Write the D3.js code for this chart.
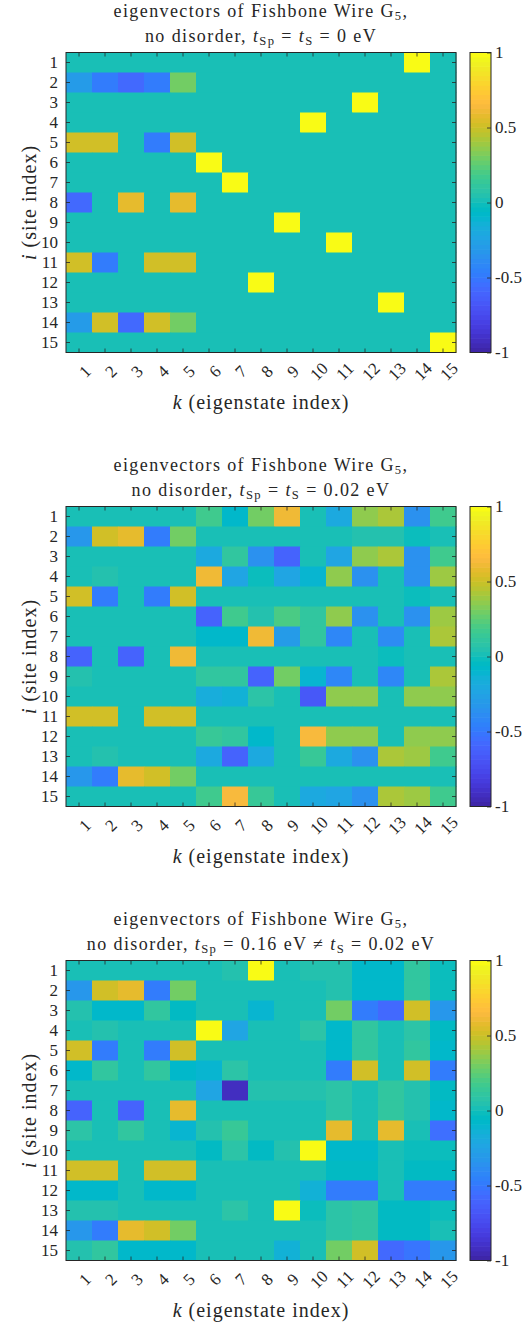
<!DOCTYPE html>
<html>
<head>
<meta charset="utf-8">
<script src="https://cdn.jsdelivr.net/npm/d3@7"></script>
<style>
  body { margin: 0; background: #fff; }
</style>
</head>
<body>
<svg></svg>
<script>
// Tick labels
const siteLabels = d3.range(1, 16).map(String);
const stateLabels = d3.range(1, 16).map(String);
const cbarTicks = [-1, -0.5, 0, 0.5, 1];
const cbarTickLabels = ["-1", "-0.5", "0", "0.5", "1"];

// Eigenvector components, rows = site i, columns = eigenstate k
// t_Sp = t_S = 0 eV
const vecsZero = [
  [0, 0, 0, 0, 0, 0, 0, 0, 0, 0, 0, 0, 0, 1, 0],
  [-0.29, -0.5, -0.58, -0.5, 0.29, 0, 0, 0, 0, 0, 0, 0, 0, 0, 0],
  [0, 0, 0, 0, 0, 0, 0, 0, 0, 0, 0, 1, 0, 0, 0],
  [0, 0, 0, 0, 0, 0, 0, 0, 0, 1, 0, 0, 0, 0, 0],
  [0.5, 0.5, 0, -0.5, 0.5, 0, 0, 0, 0, 0, 0, 0, 0, 0, 0],
  [0, 0, 0, 0, 0, 1, 0, 0, 0, 0, 0, 0, 0, 0, 0],
  [0, 0, 0, 0, 0, 0, 1, 0, 0, 0, 0, 0, 0, 0, 0],
  [-0.58, 0, 0.58, 0, 0.58, 0, 0, 0, 0, 0, 0, 0, 0, 0, 0],
  [0, 0, 0, 0, 0, 0, 0, 0, 1, 0, 0, 0, 0, 0, 0],
  [0, 0, 0, 0, 0, 0, 0, 0, 0, 0, 1, 0, 0, 0, 0],
  [0.5, -0.5, 0, 0.5, 0.5, 0, 0, 0, 0, 0, 0, 0, 0, 0, 0],
  [0, 0, 0, 0, 0, 0, 0, 1, 0, 0, 0, 0, 0, 0, 0],
  [0, 0, 0, 0, 0, 0, 0, 0, 0, 0, 0, 0, 1, 0, 0],
  [-0.29, 0.5, -0.58, 0.5, 0.29, 0, 0, 0, 0, 0, 0, 0, 0, 0, 0],
  [0, 0, 0, 0, 0, 0, 0, 0, 0, 0, 0, 0, 0, 0, 1]
];

// t_Sp = t_S = 0.02 eV
const vecsEqual = [
  [0.02, 0.02, 0.02, 0.03, 0.02, 0.17, -0.08, 0.3, 0.62, 0.03, -0.2, 0.37, 0.42, -0.35, 0.17],
  [-0.33, 0.5, 0.58, -0.5, 0.29, 0.03, 0.03, 0.03, 0.03, 0.02, 0.03, 0.05, 0.05, -0.02, 0.01],
  [0.02, 0.02, 0.02, 0.03, 0.02, -0.2, 0.1, -0.35, -0.62, 0.02, -0.25, 0.37, 0.42, -0.35, 0.17],
  [0.02, 0.04, 0.02, 0.03, 0.02, 0.62, -0.25, -0.02, -0.25, -0.12, 0.37, -0.35, 0.02, -0.35, 0.38],
  [0.5, -0.5, 0.02, -0.5, 0.5, 0.03, 0.03, 0.03, 0.03, 0.03, 0.03, 0, 0.02, -0.02, 0.03],
  [0, 0.03, 0.02, 0.03, 0.02, -0.62, 0.18, 0.06, 0.2, 0.1, 0.37, -0.35, 0.02, -0.35, 0.38],
  [0.02, 0.02, 0.03, 0.02, 0.02, -0.08, -0.08, 0.62, -0.3, 0.1, -0.42, 0.02, -0.4, 0.02, 0.42],
  [-0.6, 0.02, -0.6, 0.02, 0.6, 0.02, 0.02, 0.02, 0.01, 0.02, 0.02, 0.02, -0.01, 0.02, 0.02],
  [0.04, 0.02, 0.02, 0.02, 0.02, 0.1, 0.1, -0.62, 0.3, -0.1, -0.42, 0.02, -0.42, 0.02, 0.42],
  [0.02, 0.02, 0.02, 0.02, 0.02, -0.18, -0.13, 0.08, 0.03, -0.68, 0.37, 0.37, 0.02, 0.37, 0.37],
  [0.5, 0.5, 0.02, 0.5, 0.5, 0.02, 0.02, 0.02, 0.02, 0.02, 0.02, 0.02, 0.02, 0.02, 0.02],
  [0.02, 0.02, 0.02, 0.02, 0.02, 0.15, 0.1, -0.08, 0.02, 0.64, 0.37, 0.37, 0, 0.37, 0.37],
  [0.02, 0.04, 0.02, 0.02, 0.02, -0.2, -0.62, -0.2, 0.02, 0.15, -0.2, -0.35, 0.42, 0.4, 0.17],
  [-0.33, -0.5, 0.58, 0.5, 0.29, 0.03, 0.03, 0.03, 0.03, 0.02, 0.02, 0, 0.03, 0.03, 0.02],
  [0.02, 0.03, 0.02, 0.02, 0.02, 0.17, 0.64, 0.15, 0.02, -0.2, -0.23, -0.35, 0.42, 0.4, 0.17]
];

// t_Sp = 0.16 eV, t_S = 0.02 eV
const vecsUnequal = [
  [0.02, 0.02, 0.02, 0.03, 0.02, 0.02, 0.05, 1, 0.02, 0.05, 0.04, -0.08, -0.08, 0.1, -0.03],
  [-0.33, 0.5, 0.58, -0.5, 0.29, 0.02, 0.02, 0.02, 0.02, 0.02, 0.05, -0.08, -0.08, 0.1, -0.03],
  [0.06, -0.08, -0.08, 0.1, -0.04, 0.02, 0.02, -0.12, 0.02, 0.02, 0.29, -0.5, -0.58, 0.5, -0.33],
  [0.02, 0.04, 0.02, 0.02, 0.02, 1, -0.22, 0.02, 0.02, 0.08, -0.07, 0.1, 0.03, 0.08, -0.05],
  [0.5, -0.5, 0.02, -0.5, 0.5, 0.02, 0.02, 0.02, 0.02, 0.02, -0.07, 0.1, 0.03, 0.1, -0.07],
  [-0.07, 0.1, 0.02, 0.1, -0.07, -0.12, 0.07, 0.02, 0.02, 0.02, -0.5, 0.5, 0.02, 0.5, -0.5],
  [0.02, 0.02, 0.02, 0.02, 0.02, -0.22, -0.93, 0.05, 0.06, 0.05, 0.08, 0.03, 0.1, 0.05, -0.04],
  [-0.6, 0.02, -0.6, 0.02, 0.58, 0.02, 0.02, 0.02, 0.02, 0.02, 0.08, 0.03, 0.12, 0.04, -0.08],
  [0.08, 0.02, 0.1, 0.02, -0.1, 0.05, 0.14, 0.02, 0.02, 0.02, 0.58, 0.02, 0.58, 0.03, -0.56],
  [0.03, 0.02, 0.02, 0.02, 0.02, -0.06, 0.08, -0.06, 0.05, 1, -0.07, -0.07, 0.02, -0.03, -0.02],
  [0.5, 0.5, 0.02, 0.5, 0.5, 0.02, 0.02, 0.02, 0.02, 0.02, -0.06, -0.06, 0.02, -0.05, -0.05],
  [-0.08, -0.08, 0.02, -0.08, -0.08, 0.02, 0.02, 0.02, 0.02, -0.14, -0.5, -0.5, 0.02, -0.5, -0.5],
  [0.04, 0.04, 0.02, 0.02, 0.03, 0.02, 0.08, 0.02, 1, -0.02, 0.08, 0.1, -0.06, -0.06, -0.03],
  [-0.33, -0.5, 0.58, 0.5, 0.29, 0.02, 0.02, 0.02, 0.02, 0.02, 0.08, 0.1, -0.06, -0.06, 0],
  [0.06, 0.1, -0.07, -0.07, -0.07, 0.02, 0.02, 0.02, -0.14, 0.02, 0.29, 0.5, -0.58, -0.52, -0.33]
];

// Panel title second lines (parts: [text, style]) ; style: "i" italic, "s" subscript
const subtitles = [
  [["no disorder, "], ["t", "i"], ["Sp", "s"], [" = "], ["t", "i"], ["S", "s"], [" = 0 eV"]],
  [["no disorder, "], ["t", "i"], ["Sp", "s"], [" = "], ["t", "i"], ["S", "s"], [" = 0.02 eV"]],
  [["no disorder, "], ["t", "i"], ["Sp", "s"], [" = 0.16 eV \u2260 "], ["t", "i"], ["S", "s"], [" = 0.02 eV"]]
];

// MATLAB parula (R2014b), 64 entries
const parula = [
  [0.2422,0.1504,0.6603],[0.2504,0.1650,0.7076],[0.2578,0.1818,0.7511],[0.2647,0.1978,0.7952],
  [0.2706,0.2147,0.8364],[0.2751,0.2342,0.8710],[0.2783,0.2559,0.8991],[0.2803,0.2782,0.9221],
  [0.2813,0.3006,0.9414],[0.2810,0.3228,0.9579],[0.2795,0.3447,0.9717],[0.2760,0.3667,0.9829],
  [0.2699,0.3892,0.9906],[0.2602,0.4123,0.9952],[0.2440,0.4358,0.9988],[0.2206,0.4603,0.9973],
  [0.1963,0.4847,0.9892],[0.1834,0.5074,0.9798],[0.1786,0.5289,0.9682],[0.1764,0.5499,0.9520],
  [0.1687,0.5703,0.9359],[0.1540,0.5902,0.9218],[0.1460,0.6091,0.9079],[0.1380,0.6276,0.8973],
  [0.1248,0.6459,0.8883],[0.1113,0.6635,0.8763],[0.0952,0.6798,0.8598],[0.0689,0.6948,0.8394],
  [0.0297,0.7082,0.8163],[0.0036,0.7203,0.7917],[0.0067,0.7312,0.7660],[0.0433,0.7411,0.7394],
  [0.0964,0.7500,0.7120],[0.1408,0.7584,0.6842],[0.1717,0.7670,0.6554],[0.1938,0.7758,0.6251],
  [0.2161,0.7843,0.5923],[0.2470,0.7918,0.5567],[0.2906,0.7973,0.5188],[0.3406,0.8008,0.4789],
  [0.3909,0.8029,0.4354],[0.4456,0.8024,0.3909],[0.5044,0.7993,0.3480],[0.5616,0.7942,0.3045],
  [0.6174,0.7876,0.2612],[0.6720,0.7793,0.2227],[0.7242,0.7698,0.1910],[0.7738,0.7598,0.1646],
  [0.8203,0.7498,0.1535],[0.8634,0.7406,0.1596],[0.9035,0.7330,0.1774],[0.9393,0.7288,0.2100],
  [0.9728,0.7298,0.2394],[0.9956,0.7434,0.2371],[0.9970,0.7659,0.2199],[0.9952,0.7893,0.2028],
  [0.9892,0.8136,0.1885],[0.9807,0.8386,0.1751],[0.9681,0.8639,0.1628],[0.9563,0.8893,0.1539],
  [0.9464,0.9146,0.1449],[0.9427,0.9398,0.1327],[0.9466,0.9650,0.1143],[0.9769,0.9839,0.0805]
].map(c => d3.rgb(c[0] * 255, c[1] * 255, c[2] * 255).formatHex());

const W = 524, H = 1327;
const svg = d3.select("svg").attr("width", W).attr("height", H);

const color = d3.scaleQuantize().domain([-1, 1]).range(parula);

const plotLeft = 66, plotRight = 456, plotH = 300;
const cbLeft = 470, cbRight = 491;
const panelTops = [52.5, 506.5, 960.5];
const matrices = [vecsZero, vecsEqual, vecsUnequal];
const ink = "#262626";
const serif = "'Liberation Serif'";
const midX = (plotLeft + plotRight) / 2;

function addRich(sel, parts, size) {
  let shifted = false;
  parts.forEach(([txt, st]) => {
    const t = sel.append("tspan").text(txt);
    if (st === "i") t.style("font-style", "italic");
    if (st === "s") {
      t.style("font-size", (size * 0.7) + "px").attr("dy", size * 0.22);
      shifted = true;
    } else if (shifted) {
      t.attr("dy", -size * 0.22);
      shifted = false;
    }
  });
}

function label(g, size, spacing) {
  return g.append("text")
    .attr("text-anchor", "middle")
    .attr("fill", ink)
    .style("font-family", serif)
    .style("font-size", size + "px")
    .style("letter-spacing", spacing + "px");
}

matrices.forEach((mat, p) => {
  const top = panelTops[p], bottom = top + plotH;
  const g = svg.append("g");

  const x = d3.scaleBand().domain(stateLabels).range([plotLeft, plotRight]);
  const y = d3.scaleBand().domain(siteLabels).range([top, bottom]);

  const cells = mat.flatMap((row, i) => row.map((v, k) => ({ site: siteLabels[i], state: stateLabels[k], v })));
  g.append("g").selectAll("rect")
    .data(cells)
    .join("rect")
      .attr("x", d => x(d.state))
      .attr("y", d => y(d.site))
      .attr("width", x.bandwidth() + 0.5)
      .attr("height", y.bandwidth() + 0.5)
      .attr("fill", d => color(d.v));

  // axes, ticks pointing inward
  const xb = g.append("g").attr("transform", `translate(0,${bottom})`)
    .call(d3.axisBottom(x).tickSizeInner(-4).tickSizeOuter(0));
  xb.selectAll("text")
    .attr("y", 0).attr("dy", null)
    .attr("transform", "translate(6,19) rotate(-45)")
    .attr("text-anchor", "middle")
    .attr("dominant-baseline", "central");
  g.append("g").attr("transform", `translate(0,${top})`)
    .call(d3.axisTop(x).tickSizeInner(-4).tickSizeOuter(0).tickFormat(""));
  g.append("g").attr("transform", `translate(${plotLeft},0)`)
    .call(d3.axisLeft(y).tickSizeInner(-4).tickSizeOuter(0).tickPadding(8));
  g.append("g").attr("transform", `translate(${plotRight},0)`)
    .call(d3.axisRight(y).tickSizeInner(-4).tickSizeOuter(0).tickFormat(""));
  g.selectAll(".domain").remove();
  g.selectAll(".tick line").attr("stroke", ink).attr("stroke-width", 0.8);
  g.selectAll(".tick text").attr("fill", ink)
    .style("font-family", serif).style("font-size", "17px");

  g.append("rect")
    .attr("x", plotLeft).attr("y", top)
    .attr("width", plotRight - plotLeft).attr("height", plotH)
    .attr("fill", "none").attr("stroke", ink).attr("stroke-width", 1);

  // colorbar
  const cy = d3.scaleLinear().domain([-1, 1]).range([bottom, top]);
  const step = 2 / parula.length;
  const bands = d3.range(parula.length).map(i => -1 + i * step);
  g.append("g").selectAll("rect")
    .data(bands)
    .join("rect")
      .attr("x", cbLeft).attr("width", cbRight - cbLeft)
      .attr("y", d => cy(d + step) - 0.3)
      .attr("height", d => cy(d) - cy(d + step) + 0.6)
      .attr("fill", d => color(d + step / 2));
  const cb = g.append("g").attr("transform", `translate(${cbRight},0)`)
    .call(d3.axisRight(cy).tickValues(cbarTicks).tickSizeInner(-4).tickSizeOuter(0).tickPadding(4)
      .tickFormat((d, i) => cbarTickLabels[i]));
  cb.select(".domain").remove();
  cb.selectAll(".tick line").attr("stroke", ink).attr("stroke-width", 0.8);
  cb.selectAll(".tick text").attr("fill", ink)
    .style("font-family", serif).style("font-size", "17px");
  g.append("rect")
    .attr("x", cbLeft).attr("y", top)
    .attr("width", cbRight - cbLeft).attr("height", plotH)
    .attr("fill", "none").attr("stroke", ink).attr("stroke-width", 1);

  // title
  const t1 = label(g, 18, 1.4).attr("x", midX).attr("y", top - 36);
  addRich(t1, [["eigenvectors of Fishbone Wire G"], ["5", "s"], [","]], 18);
  const t2 = label(g, 18, 1.4).attr("x", midX).attr("y", top - 11);
  addRich(t2, subtitles[p], 18);

  // axis labels
  const xl = label(g, 20, 1).attr("x", midX).attr("y", bottom + 56);
  addRich(xl, [["k", "i"], [" (eigenstate index)"]], 20);
  const yl = label(g, 20, 1)
    .attr("transform", `translate(36,${(top + bottom) / 2}) rotate(-90)`);
  addRich(yl, [["i", "i"], [" (site index)"]], 20);
});
</script>
</body>
</html>
